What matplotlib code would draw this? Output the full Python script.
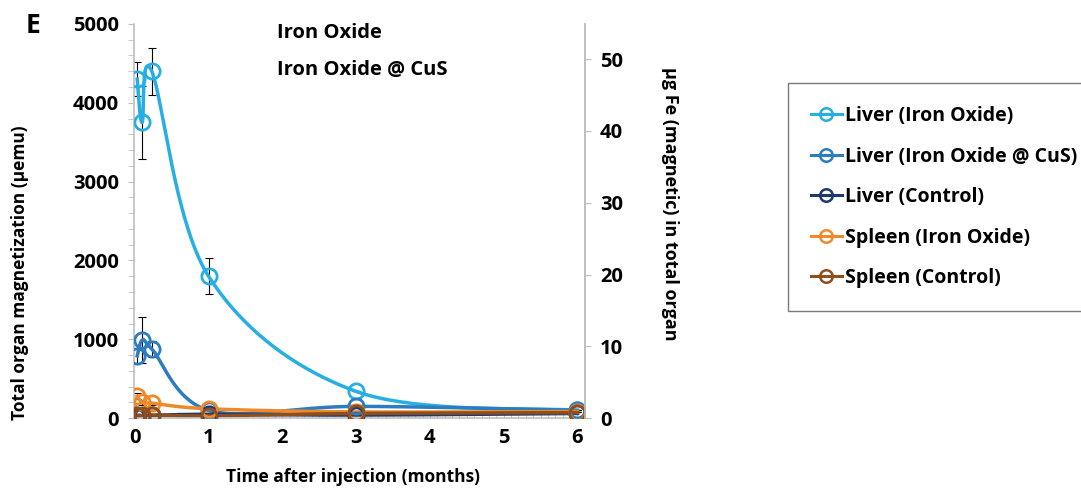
import numpy as np
import matplotlib
matplotlib.use("Agg")
import matplotlib.pyplot as plt
from matplotlib.ticker import MultipleLocator

plt.rcParams['font.family'] = ['Open Sans', 'DejaVu Sans']
plt.rcParams['font.weight'] = 'bold'

# time after injection (months)
months = [0.033, 0.1, 0.23, 1, 3, 6]

liver_io = [4300, 3750, 4400, 1800, 340, 100]
liver_io_err = [220, 460, 300, 230, 0, 0]
liver_cus = [790, 990, 880, 100, 150, 100]
liver_cus_err = [90, 290, 100, 0, 0, 0]
liver_ctrl = [20, 30, 35, 50, 40, 60]
spleen_io = [280, 200, 190, 120, 80, 85]
spleen_io_err = [40, 30, 20, 20, 0, 0]
spleen_ctrl = [40, 35, 40, 30, 60, 70]

names = ["Liver (Iron Oxide)", "Liver (Iron Oxide @ CuS)", "Liver (Control)",
         "Spleen (Iron Oxide)", "Spleen (Control)"]
colors = ["#27AEE3", "#2B7DC0", "#1E3872", "#EE8A2A", "#8E4E1E"]


def smooth(x, y, n=40):
    # excel-style smoothed line (bezier through points)
    pts = np.column_stack([x, y]).astype(float)
    out = []
    for i in range(len(pts) - 1):
        p0 = pts[max(i - 1, 0)]
        p1 = pts[i]
        p2 = pts[i + 1]
        p3 = pts[min(i + 2, len(pts) - 1)]
        c1 = p1 + (p2 - p0) / 6
        c2 = p2 - (p3 - p1) / 6
        t = np.linspace(0, 1, n)[:, None]
        seg = ((1 - t) ** 3 * p1 + 3 * (1 - t) ** 2 * t * c1
               + 3 * (1 - t) * t ** 2 * c2 + t ** 3 * p2)
        out.append(seg)
    out = np.vstack(out)
    return out[:, 0], out[:, 1]


fs_tick = 14.5
fs_lab = 12.5

fig = plt.figure(figsize=(10.81, 4.88), dpi=100)
ax = fig.add_axes([0.124, 0.143, 0.417, 0.808])

series = [(liver_io, liver_io_err), (liver_cus, liver_cus_err), (liver_ctrl, None),
          (spleen_io, spleen_io_err), (spleen_ctrl, None)]

handles = []
for (vals, err), name, c in zip(series, names, colors):
    sx, sy = smooth(months, vals)
    ax.plot(sx, sy, color=c, lw=2.5, zorder=2)
    if err is not None:
        ax.errorbar(months, vals, yerr=err, fmt='none', ecolor='black',
                    elinewidth=0.8, capsize=3, capthick=0.8, zorder=1)
    ax.plot(months, vals, 'o', mfc='none', mec=c, ms=11, mew=2, zorder=3)
    h, = ax.plot([], [], '-o', color=c, mfc='none', mec=c, ms=9, mew=1.8, lw=2.2)
    handles.append(h)

ax.set_xlim(-0.01, 6.1)
ax.set_ylim(0, 5000)
ax.xaxis.set_major_locator(MultipleLocator(1))
ax.xaxis.set_minor_locator(MultipleLocator(0.1))
ax.yaxis.set_major_locator(MultipleLocator(1000))
ax.yaxis.set_minor_locator(MultipleLocator(200))

for s in ['left', 'right', 'bottom']:
    ax.spines[s].set_color('#bfbfbf')
    ax.spines[s].set_linewidth(1.2)
ax.spines['top'].set_visible(False)

ax.tick_params(axis='x', which='both', direction='in', colors='#bfbfbf',
               labelcolor='black', labelsize=fs_tick, pad=7, length=4)
ax.tick_params(axis='y', which='both', direction='out', colors='#bfbfbf',
               labelcolor='black', labelsize=fs_tick, length=4, pad=7)

ax.set_xlabel("Time after injection (months)", fontsize=fs_lab, fontweight='bold')
ax.xaxis.set_label_coords(0.486, -0.127)
ax.set_ylabel("Total organ magnetization (\u03bcemu)", fontsize=fs_lab, fontweight='bold')
ax.yaxis.set_label_coords(-0.233, 0.37)

ax2 = ax.twinx()
ax2.set_ylim(0, 54.9)
ax2.yaxis.set_major_locator(MultipleLocator(10))
for s in ['left', 'top', 'bottom']:
    ax2.spines[s].set_visible(False)
ax2.spines['right'].set_color('#bfbfbf')
ax2.spines['right'].set_linewidth(1.2)
ax2.tick_params(axis='y', direction='out', colors='#bfbfbf', labelcolor='black',
                labelsize=fs_tick, length=4, pad=7)
ax2.set_ylabel("\u03bcg Fe (magnetic) in total organ", fontsize=13,
               fontweight='bold', rotation=-90)
ax2.yaxis.set_label_coords(1.21, 0.543)

fig.text(0.024, 0.947, "E", fontsize=19, fontweight='bold', va='center')
fig.text(0.256, 0.932, "Iron Oxide", fontsize=14.5, fontweight='bold', va='center')
fig.text(0.256, 0.856, "Iron Oxide @ CuS", fontsize=14.5, fontweight='bold', va='center')

leg = fig.legend(handles, names, loc='upper left', bbox_to_anchor=(0.729, 0.830),
                 fontsize=14, frameon=True, fancybox=False, edgecolor='#595959',
                 handlelength=1.55, handletextpad=0.2, labelspacing=1.05,
                 borderpad=1.2, borderaxespad=0)
leg.get_frame().set_linewidth(1.0)

fig.savefig("out.png", dpi=100)
